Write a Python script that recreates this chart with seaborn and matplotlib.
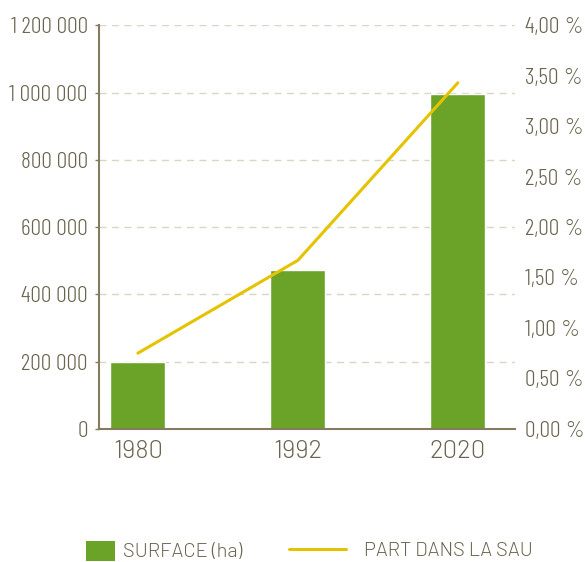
import matplotlib
matplotlib.use("Agg")
import matplotlib.pyplot as plt
import matplotlib.ticker as mticker
import seaborn as sns
import pandas as pd
from matplotlib.patches import Patch
from matplotlib.lines import Line2D

# ---- data ----
years = ["1980", "1992", "2020"]
surface_ha = [200000, 471000, 995000]
part_sau = [0.75, 1.67, 3.43]

BAR_GREEN = "#6aa328"
LINE_YELLOW = "#e5c300"
TEXT_COL = "#6b6550"
AXIS_COL = "#857b5f"
GRID_COL = "#dcd5c4"

sns.set_theme(style="white")
plt.rcParams["font.family"] = ["Barlow Condensed", "Roboto Condensed", "DejaVu Sans"]
plt.rcParams["font.weight"] = 300
WIDE_FONT = ["Barlow", "DejaVu Sans"]

df = pd.DataFrame({"annee": years, "surface": surface_ha, "part": part_sau})

fig = plt.figure(figsize=(5.85, 5.62), dpi=100)
ax = fig.add_axes([0.169, 0.237, 0.711, 0.718])

sns.barplot(data=df, x="annee", y="surface", color=BAR_GREEN, saturation=1,
            width=0.344, ax=ax)
ax.set_xlim(-0.244, 2.356)
ax.set_ylim(0, 1200000)
ax.yaxis.set_major_locator(mticker.MultipleLocator(200000))
ax.yaxis.set_major_formatter(mticker.FuncFormatter(lambda v, p: f"{int(v):,}".replace(",", " ")))
ax.grid(axis="y", color=GRID_COL, linestyle=(0, (5, 4)), linewidth=1)
ax.set_axisbelow(True)
ax.set_xlabel("")
ax.set_ylabel("")
for s in ["top", "right"]:
    ax.spines[s].set_visible(False)
for s in ["left", "bottom"]:
    ax.spines[s].set_color(AXIS_COL)
    ax.spines[s].set_linewidth(1.5)
ax.tick_params(axis="y", left=True, length=3, width=1, color=AXIS_COL,
               labelsize=17, labelcolor=TEXT_COL, pad=5)
ax.tick_params(axis="x", bottom=False, length=0, labelcolor=TEXT_COL, pad=8)
ax.set_xticks(range(len(years)))
ax.set_xticklabels(years, fontfamily=WIDE_FONT, fontsize=18.5, fontweight=300)

# ---- secondary axis: part dans la SAU ----
ax2 = ax.twinx()
sns.lineplot(data=df, x="annee", y="part", color=LINE_YELLOW, linewidth=2.2, ax=ax2)
ax2.set_ylim(0, 4)
ax2.yaxis.set_major_locator(mticker.MultipleLocator(0.5))
ax2.yaxis.set_major_formatter(mticker.FuncFormatter(lambda v, p: f"{v:.2f}\u202f%".replace(".", ",")))
ax2.set_ylabel("")
for s in ["top", "right", "left", "bottom"]:
    ax2.spines[s].set_visible(False)
ax2.tick_params(axis="y", right=False, length=0, labelsize=17, labelcolor=TEXT_COL, pad=7)
ax2.grid(False)

# ---- legend: two single-entry legends so each handle keeps its own size ----
leg_kw = dict(loc="center left", frameon=False, borderpad=0, borderaxespad=0,
              prop={"family": WIDE_FONT, "size": 14.5, "weight": 300},
              labelcolor=TEXT_COL)
leg1 = fig.legend([Patch(facecolor=BAR_GREEN, edgecolor="none")], ["SURFACE (ha)"],
                  bbox_to_anchor=(86 / 585, 1 - 551 / 562),
                  handlelength=1.44, handleheight=1.15, handletextpad=0.4, **leg_kw)
leg2 = fig.legend([Line2D([0], [0], color=LINE_YELLOW, linewidth=2.2)], ["PART DANS LA SAU"],
                  bbox_to_anchor=(289 / 585, 1 - 551 / 562),
                  handlelength=2.83, handletextpad=0.9, **leg_kw)

fig.savefig("out.png", dpi=100)
